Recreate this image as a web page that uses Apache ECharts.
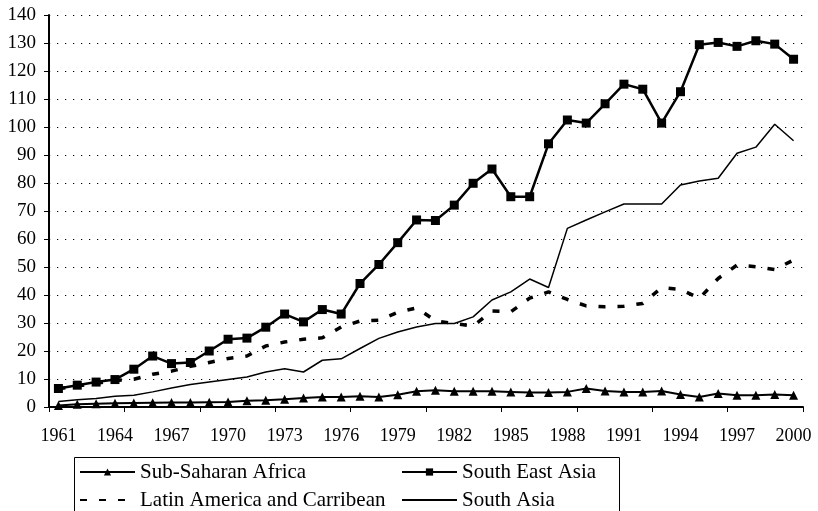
<!DOCTYPE html>
<html>
<head>
<meta charset="utf-8">
<script src="https://cdn.jsdelivr.net/npm/echarts@6/dist/echarts.min.js"></script>
<style>
    html, body { margin: 0; padding: 0; background: #fff; }
    #chart { width: 818px; height: 511px; }
</style>
</head>
<body>
<div id="chart"></div>
<script>
    var years = ['1961', '1962', '1963', '1964', '1965', '1966', '1967', '1968', '1969', '1970',
        '1971', '1972', '1973', '1974', '1975', '1976', '1977', '1978', '1979', '1980',
        '1981', '1982', '1983', '1984', '1985', '1986', '1987', '1988', '1989', '1990',
        '1991', '1992', '1993', '1994', '1995', '1996', '1997', '1998', '1999', '2000'];

    var subSaharanAfrica = [0.5, 1.0, 1.2, 1.3, 1.4, 1.5, 1.6, 1.6, 1.7, 1.8,
        2.2, 2.4, 2.75, 3.2, 3.6, 3.6, 3.8, 3.6, 4.4, 5.6,
        6.0, 5.6, 5.6, 5.6, 5.4, 5.2, 5.2, 5.4, 6.6, 5.7,
        5.4, 5.4, 5.7, 4.5, 3.6, 4.8, 4.2, 4.2, 4.5, 4.2];

    var southEastAsia = [6.6, 7.8, 8.9, 9.8, 13.5, 18.2, 15.5, 15.9, 20.0, 24.2,
        24.6, 28.5, 33.2, 30.4, 34.8, 33.2, 44.1, 50.9, 58.7, 66.8,
        66.6, 72.1, 79.9, 85.0, 75.1, 75.1, 94.0, 102.5, 101.4, 108.3,
        115.3, 113.5, 101.4, 112.6, 129.4, 130.2, 128.8, 130.8, 129.6, 124.2];

    var latinAmerica = [6.5, 7.5, 8.5, 9.5, 9.9, 11.7, 12.8, 14.5, 15.9, 17.3,
        18.2, 21.8, 23.2, 24.2, 24.7, 28.6, 30.7, 31.0, 33.8, 35.4,
        30.8, 29.8, 28.9, 34.3, 34.0, 38.9, 41.1, 38.4, 36.1, 35.8,
        36.0, 37.0, 42.6, 42.0, 38.8, 45.9, 50.7, 50.1, 49.1, 52.5];

    var southAsia = [2.0, 2.6, 3.0, 3.8, 4.2, 5.4, 6.8, 8.0, 8.9, 9.8,
        10.7, 12.5, 13.7, 12.5, 16.7, 17.2, 20.9, 24.5, 26.8, 28.6,
        29.8, 29.8, 32.2, 38.2, 41.1, 45.7, 42.7, 63.8, 66.8, 69.7,
        72.5, 72.5, 72.5, 79.3, 80.7, 81.7, 90.6, 92.8, 101.0, 95.1];

    var yTicks = { min: 0, max: 140, interval: 10 };

    var font = '"Liberation Serif", "DejaVu Serif", serif';
    var chart = echarts.init(document.getElementById('chart'));

    var legendText = { fontFamily: font, fontSize: 21, color: '#000', lineHeight: 22 };
    // line-only series: hide the symbol in the legend icon
    var noMark = { opacity: 0 };

    var option = {
        animation: false,
        grid: { left: 49, right: 15, top: 15, bottom: 104, containLabel: false },
        legend: [
            {
                data: ['Sub-Saharan Africa', { name: 'Latin America and Carribean', itemStyle: noMark }],
                orient: 'vertical',
                left: 79, top: 461,
                padding: 0, itemGap: 6,
                itemWidth: 55, itemHeight: 9,
                textStyle: legendText,
                selectedMode: false
            },
            {
                data: ['South East Asia', { name: 'South Asia', itemStyle: noMark }],
                orient: 'vertical',
                left: 401, top: 461,
                padding: 0, itemGap: 6,
                itemWidth: 55, itemHeight: 9,
                textStyle: legendText,
                selectedMode: false
            }
        ],
        graphic: [
            {
                type: 'rect',
                left: 72, top: 455,
                shape: { width: 545, height: 62 },
                style: { fill: 'none', stroke: '#000', lineWidth: 1 },
                silent: true
            }
        ],
        xAxis: {
            type: 'category',
            data: years,
            boundaryGap: true,
            axisLine: { lineStyle: { color: '#000', width: 2 } },
            axisTick: { show: true, interval: 3, length: 5, lineStyle: { color: '#000', width: 1 } },
            axisLabel: { interval: 2, color: '#000', fontFamily: font, fontSize: 18, margin: 20 },
            splitLine: { show: false }
        },
        yAxis: {
            type: 'value',
            min: yTicks.min, max: yTicks.max, interval: yTicks.interval,
            axisLine: { show: true, lineStyle: { color: '#000', width: 2 } },
            axisTick: { show: true, length: 5, lineStyle: { color: '#000', width: 1 } },
            axisLabel: { color: '#000', fontFamily: font, fontSize: 19, margin: 13 },
            splitLine: { show: true, lineStyle: { color: '#000', width: 1.2, type: [1.2, 6.8] } }
        },
        series: [
            {
                name: 'Sub-Saharan Africa',
                type: 'line',
                data: subSaharanAfrica,
                symbol: 'triangle', symbolSize: 9,
                itemStyle: { color: '#000' },
                lineStyle: { color: '#000', width: 2 },
                z: 4
            },
            {
                name: 'South East Asia',
                type: 'line',
                data: southEastAsia,
                symbol: 'rect', symbolSize: 9,
                itemStyle: { color: '#000' },
                lineStyle: { color: '#000', width: 2.5 },
                z: 5
            },
            {
                name: 'Latin America and Carribean',
                type: 'line',
                data: latinAmerica,
                symbol: 'none',
                itemStyle: { color: '#000' },
                lineStyle: { color: '#000', width: 3.5, type: [7, 12] },
                z: 3
            },
            {
                name: 'South Asia',
                type: 'line',
                data: southAsia,
                symbol: 'none',
                itemStyle: { color: '#000' },
                lineStyle: { color: '#000', width: 1.5 },
                z: 2
            }
        ]
    };
    chart.setOption(option);
</script>
</body>
</html>
